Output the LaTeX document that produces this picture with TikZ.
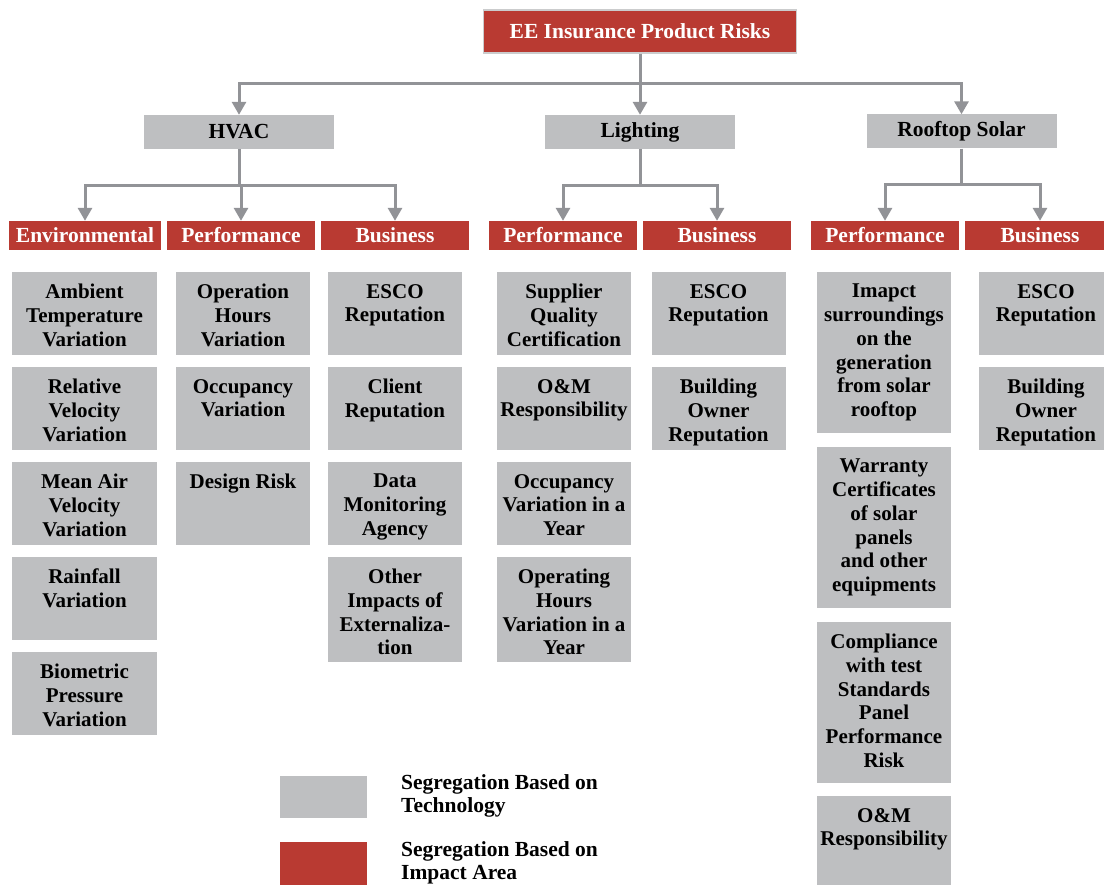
\documentclass[tikz,border=0pt]{standalone}
\usepackage{fontspec}
\setmainfont{Liberation Serif}
\usetikzlibrary{arrows.meta, positioning}
\definecolor{eered}{RGB}{185,58,50}
\definecolor{eegray}{RGB}{190,191,193}
\definecolor{eeline}{RGB}{146,147,151}

\tikzset{
    titlebox/.style={fill=eered, draw=eegray!80, line width=1.2, text=white, inner sep=0,
        font=\bfseries\fontsize{21.5}{24}\selectfont, minimum width=313, minimum height=43},
    techbox/.style={fill=eegray, inner sep=0, font=\bfseries\fontsize{21.5}{24}\selectfont,
        minimum width=190, minimum height=34},
    areabox/.style={fill=eered, text=white, inner sep=0, font=\bfseries\fontsize{21.5}{24}\selectfont,
        minimum width=148, minimum height=29},
    riskbox/.style={fill=eegray, inner sep=0, anchor=north, minimum width=134},
    risktext/.style={inner sep=0, anchor=north, align=center, font=\bfseries\fontsize{21}{23.7}\selectfont},
    legendtext/.style={inner sep=0, anchor=north west, align=left, font=\bfseries\fontsize{21.5}{23}\selectfont},
    stem/.style={draw=eeline, line width=3},
    link/.style={stem, -{Triangle[width=14pt, length=13pt]}},
}

\begin{document}
\begin{tikzpicture}[x=1pt, y=-1pt]
    \useasboundingbox (0,0) rectangle (1104,885);

    % Top and technologies
    \node[titlebox] (top) at (640,31.5) {EE Insurance Product Risks};
    \node[techbox] (hvac) at (239,132) {HVAC};
    \node[techbox] (light) at (640,132) {Lighting};
    \node[techbox] (roof) at (961.5,131.5) {Rooftop Solar};

    % Impact areas
    \node[areabox, minimum width=152] (env) at (85,235.5) {Environmental};
    \node[areabox] (hperf) at (241,235.5) {Performance};
    \node[areabox] (hbus) at (395,235.5) {Business};
    \node[areabox] (lperf) at (563,235.5) {Performance};
    \node[areabox] (lbus) at (717,235.5) {Business};
    \node[areabox] (rperf) at (885,235.5) {Performance};
    \node[areabox, minimum width=150] (rbus) at (1040,235.5) {Business};

    % Connectors
    \coordinate (j0) at ([yshift=-30pt]top.south);
    \draw[stem] (top) -- (j0);
    \draw[link] (j0) -| (hvac.north);
    \draw[link] (j0) -- (light.north);
    \draw[link] (j0) -| (roof.north);

    \coordinate (j1) at ([yshift=-36pt]hvac.south);
    \draw[stem] (hvac) -- (j1);
    \foreach \t in {env, hperf, hbus}
        \draw[link] (j1) -| (\t.north);

    \coordinate (j2) at ([yshift=-36pt]light.south);
    \draw[stem] (light) -- (j2);
    \foreach \t in {lperf, lbus}
        \draw[link] (j2) -| (\t.north);

    \coordinate (j3) at ([yshift=-36pt]roof.south);
    \draw[stem] (roof) -- (j3);
    \foreach \t in {rperf, rbus}
        \draw[link] (j3) -| (\t.north);

    % HVAC - Environmental
    \foreach \n/\y/\txt in {1/272/{Ambient\\Temperature\\Variation}, 2/367/{Relative\\Velocity\\Variation},
            3/462/{Mean Air\\Velocity\\Variation}, 4/557/{Rainfall\\Variation}, 5/652/{Biometric\\Pressure\\Variation}} {
        \node[riskbox, minimum width=145, minimum height=83] (env\n) at (84.5,\y) {};
        \node[risktext] (env\n-t) at ([yshift=-12pt]env\n.north) {\txt};
    }

    % HVAC - Performance
    \foreach \n/\y/\txt in {1/272/{Operation\\Hours\\Variation}, 2/367/{Occupancy\\Variation}, 3/462/{Design Risk}} {
        \node[riskbox, minimum height=83] (hperf\n) at (243,\y) {};
        \node[risktext] (hperf\n-t) at ([yshift=-12pt]hperf\n.north) {\txt};
    }

    % HVAC - Business
    \foreach \n/\y/\h/\txt in {1/272/83/{ESCO\\Reputation}, 2/367/83/{Client\\Reputation},
            3/462/83/{Data\\Monitoring\\Agency}, 4/557/105/{Other\\Impacts of\\Externaliza-\\tion}} {
        \node[riskbox, minimum height=\h] (hbus\n) at (395,\y) {};
        \node[risktext] (hbus\n-t) at ([yshift=-12pt]hbus\n.north) {\txt};
    }

    % Lighting - Performance
    \foreach \n/\y/\h/\txt in {1/272/83/{Supplier\\Quality\\Certification}, 2/367/83/{O\&M\\Responsibility},
            3/462/83/{Occupancy\\Variation in a\\Year}, 4/557/105/{Operating\\Hours\\Variation in a\\Year}} {
        \node[riskbox, minimum height=\h] (lperf\n) at (564,\y) {};
        \node[risktext] (lperf\n-t) at ([yshift=-12pt]lperf\n.north) {\txt};
    }

    % Lighting - Business
    \foreach \n/\y/\txt in {1/272/{ESCO\\Reputation}, 2/367/{Building\\Owner\\Reputation}} {
        \node[riskbox, minimum height=83] (lbus\n) at (718.5,\y) {};
        \node[risktext] (lbus\n-t) at ([yshift=-12pt]lbus\n.north) {\txt};
    }

    % Rooftop Solar - Performance
    \foreach \n/\y/\h/\txt in {1/272/161/{Imapct\\surroundings\\on the\\generation\\from solar\\rooftop},
            2/447/161/{Warranty\\Certificates\\of solar\\panels\\and other\\equipments},
            3/622/161/{Compliance\\with test\\Standards\\Panel\\Performance\\Risk},
            4/796/100/{O\&M\\Responsibility}} {
        \node[riskbox, minimum height=\h] (rperf\n) at (884,\y) {};
        \node[risktext] (rperf\n-t) at ([yshift=-12pt]rperf\n.north) {\txt};
    }

    % Rooftop Solar - Business
    \foreach \n/\y/\txt in {1/272/{ESCO\\Reputation}, 2/367/{Building\\Owner\\Reputation}} {
        \node[riskbox, minimum height=83] (rbus\n) at (1046,\y) {};
        \node[risktext] (rbus\n-t) at ([yshift=-12pt]rbus\n.north) {\txt};
    }

    % Legend
    \node[fill=eegray, inner sep=0, minimum width=87, minimum height=42, anchor=north west] (legtech) at (280,776) {};
    \node[legendtext] (legtech-t) at (401,774) {Segregation Based on\\Technology};
    \node[fill=eered, inner sep=0, minimum width=87, minimum height=50, anchor=north west] (legarea) at (280,842) {};
    \node[legendtext] (legarea-t) at (401,841) {Segregation Based on\\Impact Area};

\end{tikzpicture}
\end{document}
